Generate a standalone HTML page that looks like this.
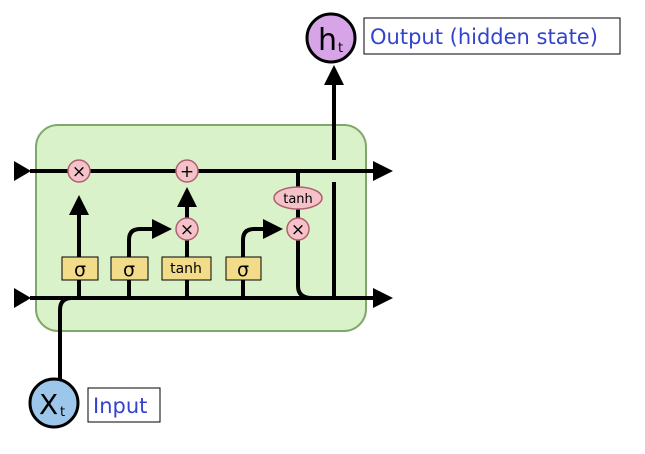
<!DOCTYPE html>
<html><head><meta charset="utf-8"><style>
html,body{margin:0;padding:0;background:#fff;}
svg{display:block;}
text{font-family:"DejaVu Sans","Liberation Sans",sans-serif;}
</style></head><body>
<svg width="645" height="454" viewBox="0 0 645 454">
<defs><marker id="ah" markerWidth="5" markerHeight="5" refX="3" refY="2.5" orient="auto" markerUnits="strokeWidth"><path d="M0,0 L5,2.5 L0,5 z" fill="#000"/></marker></defs>
<rect x="36" y="125" width="330" height="206" rx="22" fill="#d9f2c9" stroke="#7fa86a" stroke-width="2"/>
<g stroke="#000" stroke-width="4" fill="none">
<path d="M30,171 H385" marker-end="url(#ah)"/>
<path d="M30,298 H385" marker-end="url(#ah)"/>
<path d="M60,380 V310 Q60,298 72,298"/>
<path d="M79,298 V203" marker-end="url(#ah)"/>
<path d="M187,298 V240"/>
<path d="M187,218 V195" marker-end="url(#ah)"/>
<path d="M129,298 V240 Q129,229 140,229 H164" marker-end="url(#ah)"/>
<path d="M243,298 V240 Q243,229 254,229 H275" marker-end="url(#ah)"/>
<path d="M298,171 V240"/>
<path d="M298,240 V286 Q298,298 312,298"/>
<path d="M334,298 V182 M334,160 V75" />
<path d="M334,90 V73" marker-end="url(#ah)"/>
</g>
<path d="M14,161 L31,171 L14,181 z M14,288 L31,298 L14,308 z" fill="#000"/>
<g stroke="#000" stroke-width="1" fill="#f2dc8a">
<rect x="62" y="257" width="36" height="23"/>
<rect x="111" y="257" width="37" height="23"/>
<rect x="162" y="257" width="49" height="23"/>
<rect x="226" y="257" width="35" height="23"/>
</g>
<g font-size="19" text-anchor="middle" fill="#000">
<text x="80" y="276">σ</text><text x="129" y="276">σ</text><text x="243" y="276">σ</text>
<text x="186" y="273" font-size="14">tanh</text>
</g>
<g fill="#f4c2c8" stroke="#b06070" stroke-width="1.5">
<circle cx="79" cy="171" r="11"/>
<circle cx="187" cy="171" r="11"/>
<circle cx="187" cy="229" r="11"/>
<circle cx="298" cy="229" r="11"/>
<ellipse cx="298" cy="198" rx="24" ry="11"/>
</g>
<g font-size="17" text-anchor="middle" fill="#000">
<text x="79" y="177">×</text><text x="187" y="177">+</text><text x="187" y="235">×</text><text x="298" y="235">×</text>
<text x="298" y="203" font-size="13">tanh</text>
</g>
<circle cx="331" cy="38" r="24" fill="#d7a4e8" stroke="#000" stroke-width="3"/>
<text x="318" y="50" font-size="30" fill="#000">h</text><text x="338" y="52" font-size="13">t</text>
<rect x="364" y="18" width="256" height="36" fill="#fff" stroke="#000" stroke-width="1"/>
<text x="370" y="44" font-size="21" fill="#3344cc">Output (hidden state)</text>
<circle cx="54" cy="403" r="24" fill="#9dc7ea" stroke="#000" stroke-width="3"/>
<text x="39" y="414" font-size="28" fill="#000">X</text><text x="60" y="416" font-size="13">t</text>
<rect x="88" y="388" width="72" height="34" fill="#fff" stroke="#000" stroke-width="1"/>
<text x="93" y="413" font-size="21" fill="#3344cc">Input</text>
</svg>
</body></html>
